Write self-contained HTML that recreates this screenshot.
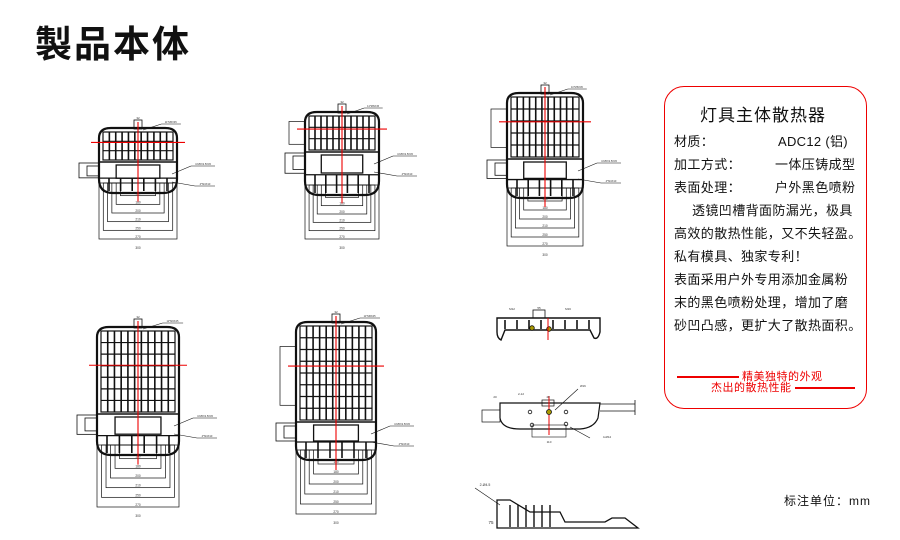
<!DOCTYPE html>
<html><head><meta charset="utf-8">
<style>
body{margin:0;background:#fff;width:900px;height:540px;overflow:hidden;position:relative;font-family:"Liberation Sans","Noto Sans CJK SC",sans-serif}
.t{position:absolute;left:35px;top:14px;font-size:37px;font-weight:bold;letter-spacing:2px;color:#111;font-family:"Noto Sans CJK SC",sans-serif}
.box{position:absolute;left:664px;top:86px;width:203px;height:323px;border:1.5px solid #e00;border-radius:20px;box-sizing:border-box}
.p{position:absolute;font-size:13px;color:#111;white-space:nowrap;letter-spacing:0.4px;font-family:"Liberation Sans","Noto Sans CJK SC",sans-serif}
.r{color:#e00;font-size:11px;letter-spacing:0.5px}
</style></head><body>
<div class="t">製品本体</div>
<svg id="s" width="900" height="540" style="position:absolute;left:0;top:0" fill="none" stroke="#111" stroke-width="0.8"></svg>
<div class="box"></div>
<div class="p" style="left:700px;top:101px;font-size:17px;letter-spacing:1px">灯具主体散热器</div>
<div class="p" style="left:674px;top:131px">材质：</div>
<div class="p" style="left:778px;top:131px;letter-spacing:0.3px">ADC12 (铝)</div>
<div class="p" style="left:674px;top:154px">加工方式：</div>
<div class="p" style="left:775px;top:154px">一体压铸成型</div>
<div class="p" style="left:674px;top:177px">表面处理：</div>
<div class="p" style="left:775px;top:177px">户外黑色喷粉</div>
<div class="p" style="left:692px;top:200px">透镜凹槽背面防漏光，极具</div>
<div class="p" style="left:674px;top:223px">高效的散热性能，又不失轻盈。</div>
<div class="p" style="left:674px;top:246px">私有模具、独家专利！</div>
<div class="p" style="left:674px;top:269px">表面采用户外专用添加金属粉</div>
<div class="p" style="left:674px;top:292px">末的黑色喷粉处理，增加了磨</div>
<div class="p" style="left:674px;top:315px">砂凹凸感，更扩大了散热面积。</div>
<div class="p r" style="left:742px;top:368px">精美独特的外观</div>
<div class="p r" style="left:711px;top:379px">杰出的散热性能</div>
<div style="position:absolute;left:677px;top:376px;width:62px;height:1.5px;background:#e00"></div>
<div style="position:absolute;left:795px;top:387px;width:60px;height:1.5px;background:#e00"></div>
<div class="p" style="left:784px;top:492px;font-size:12px;letter-spacing:1px">标注单位：mm</div>
<script>
var s=document.getElementById('s'),h='';
function L(x1,y1,x2,y2,c,w){h+='<line x1="'+x1+'" y1="'+y1+'" x2="'+x2+'" y2="'+y2+'"'+(c?' stroke="'+c+'"':'')+(w?' stroke-width="'+w+'"':'')+'/>';}
function R(x,y,w,hh,sw,rx){h+='<rect x="'+x+'" y="'+y+'" width="'+w+'" height="'+hh+'"'+(sw?' stroke-width="'+sw+'"':'')+(rx?' rx="'+rx+'"':'')+'/>';}
function T(x,y,t,fs){h+='<text x="'+x+'" y="'+y+'" font-size="'+(fs||3.5)+'" fill="#333" stroke="none" text-anchor="middle" font-family="Liberation Sans">'+t+'</text>';}
function lamp(cx,top,w,gb,bot,db,upbox){
 var x0=cx-w/2,x1=cx+w/2;
 R(cx-4,top-8,8,9,0.8);T(cx,top-9,'32',3);
 h+='<path d="M'+x0+' '+(top+10)+' Q'+x0+' '+top+' '+(x0+12)+' '+top+' L'+(x1-12)+' '+top+' Q'+x1+' '+top+' '+x1+' '+(top+10)+' L'+x1+' '+(bot-14)+' Q'+x1+' '+bot+' '+(x1-14)+' '+bot+' L'+(x0+14)+' '+bot+' Q'+x0+' '+bot+' '+x0+' '+(bot-14)+' Z" stroke-width="2.2"/>';
 R(x0+4,top+4,w-8,gb-top-4,1.2);
 var n=11;for(var i=1;i<n;i++){var x=x0+4+i*(w-8)/n;L(x,top+4,x,gb,'#111',1.6);}
 var rows=Math.max(3,Math.round((gb-top)/12));for(var j=1;j<rows;j++){var y=top+4+j*(gb-top-4)/rows;L(x0+4,y,x1-4,y,'#111',1.2);}
 L(x0,gb+2,x1,gb+2,'#111',1.5);
 R(cx-w*0.28,gb+5,w*0.56,(bot-gb)*0.4,1.3);
 L(x0,gb+(bot-gb)*0.55,x1,gb+(bot-gb)*0.55,'#111',1.3);
 for(var k=0;k<6;k++){var x=x0+10+k*(w-20)/5;L(x,gb+(bot-gb)*0.55,x,bot-2,'#111',1.6);}
 R(x0-20,gb+3,20,(bot-gb)*0.45,0.8);R(x0-12,gb+6,12,(bot-gb)*0.3,0.8);
 if(upbox)R(x0-16,top+(gb-top)*0.25,16,(gb-top)*0.6,0.7);
 var dh=(db-bot)/6;
 for(var m=0;m<6;m++){var ww=w*(0.45+m*0.11),yy=bot-6+m*dh;R(cx-ww/2,bot-10,ww,yy-bot+10+dh,0.7);T(cx,yy+dh-1,[150,180,200,210,250,270,300][m],3.2);}
 T(cx,db+4,'300',3.2);
 L(cx,top-6,cx,bot+dh,'#e00',1.1);L(x0-8,top+(gb-top)*0.45,x1+8,top+(gb-top)*0.45,'#e00',1.1);
 L(cx+5,top+2,cx+w*0.3,top-4,'#111',0.6);L(cx+w*0.3,top-4,cx+w*0.55,top-4,'#111',0.6);T(cx+w*0.42,top-5,'11*M6X45',2.6);
 L(x1-5,gb+14,x1+14,gb+6,'#111',0.6);L(x1+14,gb+6,x1+38,gb+6,'#111',0.6);T(x1+26,gb+5,'3-M5X2.5X45',2.6);
 L(x1-5,gb+22,x1+18,gb+26,'#111',0.6);L(x1+18,gb+26,x1+38,gb+26,'#111',0.6);T(x1+28,gb+25,'4*M4X10',2.6);
}
lamp(138,128,78,160,193,245,false);
lamp(342,112,74,150,195,245,true);
lamp(545,93,76,157,198,252,true);
lamp(138,327,82,412,455,513,false);
lamp(336,322,80,420,460,520,true);
h+='<path d="M497 318 L600 318 L600 332 Q598 340 594 338 L590 330 L505 330 L501 340 Q497 338 497 332 Z" stroke-width="1.4"/>';
R(533,310,12,8,0.8);T(539,309,'55',3);
for(var i=0;i<8;i++)L(505+i*12,320,505+i*12,329,'#111',1.6);
h+='<circle cx="532" cy="328" r="2.3" fill="#a90"/><circle cx="549" cy="329" r="2.3" fill="#a90"/>';
L(548,318,548,340,'#e00',1);T(512,310,'M12',3);T(568,310,'M16',3);
h+='<path d="M500 403 L600 403 L598 418 Q594 428 580 429 L520 429 Q502 429 500 418 Z" stroke-width="1.2"/>';
L(600,404,635,404);L(600,411,635,411);L(635,400,635,415);R(482,410,18,12,0.7);
R(542,400,12,6,0.7);L(549,396,549,435,'#e00',1);
h+='<circle cx="549" cy="412" r="2.5" fill="#a90"/>';
[[530,412],[566,412],[532,425],[566,424]].forEach(function(c){h+='<circle cx="'+c[0]+'" cy="'+c[1]+'" r="1.8"/>';});
R(532,425,34,12,0.6);T(549,443,'110',3);T(495,398,'20',3);T(548,398,'40',3);T(521,395,'2-12',3);T(583,387,'Ø16',3);T(607,438,'4-Ø12',3);
L(555,410,578,389,'#111',0.6);L(570,427,590,438,'#111',0.6);
h+='<path d="M497 528 L497 500 L510 500 L530 512 L560 512 L565 522 L605 522 L612 518 L625 518 L638 528 Z" stroke-width="1.3"/>';
for(var i=0;i<6;i++)L(510+i*8,505,510+i*8,527,'#111',1.4);
L(475,488,500,505,'#111',0.6);T(485,486,'2-Ø4.5',3.5);T(491,524,'75',4.5);
s.innerHTML=h;
</script>
</body></html>
